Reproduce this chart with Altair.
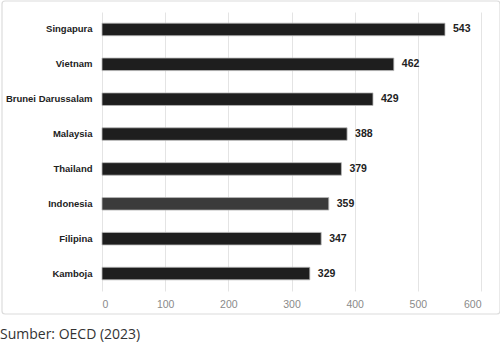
import altair as alt
import pandas as pd

countries = ["Singapura", "Vietnam", "Brunei Darussalam", "Malaysia", "Thailand", "Indonesia", "Filipina", "Kamboja"]
scores = [543, 462, 429, 388, 379, 359, 347, 329]
colors = ["#1e1e1e", "#1e1e1e", "#1e1e1e", "#1e1e1e", "#1e1e1e", "#3b3b3b", "#1e1e1e", "#1e1e1e"]
ticks = [0, 100, 200, 300, 400, 500, 600]
source = "Sumber: OECD (2023)"

df = pd.DataFrame({"country": countries, "score": scores, "color": colors})

frame = alt.Chart(pd.DataFrame({"a": [0]})).mark_rect(
    fill="transparent", stroke="#dcdcdc", strokeWidth=1.2, cornerRadius=3
).encode(
    x=alt.value(-100), x2=alt.value(398), y=alt.value(-11), y2=alt.value(302)
)

y_enc = alt.Y("country:N", sort=countries, title=None,
              scale=alt.Scale(paddingInner=0.64, paddingOuter=0.32),
              axis=alt.Axis(domain=False, ticks=False, labelFont="Liberation Sans",
                            labelFontWeight="bold", labelFontSize=9.5, labelColor="#222222",
                            labelPadding=10))
x_enc = alt.X("score:Q", title=None, scale=alt.Scale(domain=[0, 600], nice=False),
              axis=alt.Axis(values=ticks, domain=False, ticks=False, grid=True,
                            gridColor="#e4e4e4", gridWidth=1, labelColor="#8a8a8a",
                            labelFont="Liberation Sans", labelFontSize=10.5, labelPadding=8))

bars = alt.Chart(df).mark_bar(stroke="#b8b8b8", strokeWidth=0.8).encode(
    x=x_enc, y=y_enc, color=alt.Color("color:N", scale=None)
)

labels = alt.Chart(df).mark_text(
    align="left", dx=8, font="Liberation Sans", fontWeight="bold", fontSize=10.5, color="#222222"
).encode(x="score:Q", y=alt.Y("country:N", sort=countries), text="score:Q")

src = alt.Chart(pd.DataFrame({"t": [source]})).mark_text(
    align="left", baseline="middle", font="Open Sans", fontSize=14, color="#333333"
).encode(x=alt.value(-102), y=alt.value(323), text="t:N")

chart = alt.layer(frame, bars, labels, src).properties(
    width=379, height=279,
    autosize=alt.AutoSizeParams(type="none"),
    padding={"left": 102, "top": 12, "right": 19, "bottom": 53},
    background="white",
).configure_view(stroke=None)

chart.save("out.html", embed_options={"renderer": "svg", "actions": False})
